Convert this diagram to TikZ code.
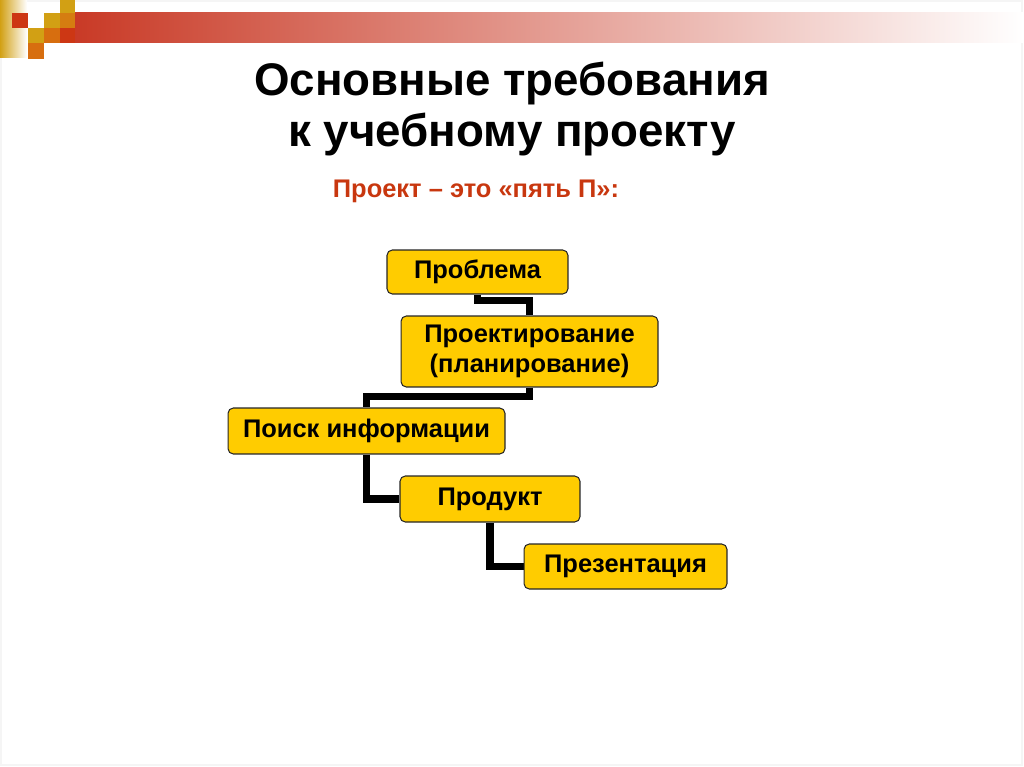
\documentclass[tikz,border=0pt]{standalone}
\usepackage{fontspec}
\setmainfont{Liberation Sans}
\usetikzlibrary{backgrounds}
\definecolor{boxfill}{RGB}{255,204,0}
\definecolor{subred}{RGB}{200,55,15}
\definecolor{decgold}{RGB}{210,160,20}
\definecolor{decorange}{RGB}{215,110,15}
\definecolor{decred}{RGB}{205,55,20}
\definecolor{barred}{RGB}{200,55,35}
\tikzset{
  stepbox/.style={draw=black!85, line width=0.6pt, fill=boxfill, rounded corners=3pt,
    font=\fontsize{14.5}{17.5}\selectfont\bfseries, align=center, inner sep=0pt},
  oneline/.style={text height=0.716em, text depth=0pt},
  conn/.style={line width=4pt, black, line join=miter},
  titletext/.style={font=\fontsize{26}{30}\selectfont\bfseries, anchor=base},
}
\begin{document}
\begin{tikzpicture}[x=0.02cm,y=-0.02cm]
\useasboundingbox (0,0) rectangle (1024,767);
\draw[black!4, line width=0.6pt] (1,1) rectangle (1022,765);
% top-left decoration
\shade[left color=decgold, right color=white] (0,0) rectangle (27,58);
\shade[left color=barred, right color=white] (60,13) rectangle (1024,43);
\fill[decred] (60,28) rectangle (75,43);
\fill[decred] (12,13) rectangle (28,28);
\fill[decgold] (60,0) rectangle (75,13);
\fill[decgold] (44,13) rectangle (60,28);
\fill[decorange!70!decgold] (60,13) rectangle (75,28);
\fill[decgold] (28,28) rectangle (44,43);
\fill[decorange] (44,28) rectangle (60,43);
\fill[decorange] (28,43) rectangle (44,59);
% titles
\node[titletext] (t1) at (512,95) {Основные требования};
\node[titletext] (t2) at (512,147) {к учебному проекту};
\node[font=\fontsize{14.5}{17}\selectfont\bfseries, text=subred, anchor=base] (sub) at (476,197) {Проект – это «пять П»:};
% boxes
\node[stepbox, oneline, minimum width=3.62cm, minimum height=0.88cm] (p1) at (477.5,272) {Проблема};
\node[stepbox, minimum width=5.14cm, minimum height=1.42cm] (p2) at (529.5,351.5) {Проектирование\\(планирование)};
\node[stepbox, oneline, minimum width=5.54cm, minimum height=0.92cm] (p3) at (366.5,431) {Поиск информации};
\node[stepbox, oneline, minimum width=3.6cm, minimum height=0.92cm] (p4) at (490,499) {Продукт};
\node[stepbox, oneline, minimum width=4.06cm, minimum height=0.9cm] (p5) at (625.5,566.5) {Презентация};
% connectors
\begin{scope}[on background layer]
\draw[conn] (p1.south) -- ++(0,6) -| (p2.north);
\draw[conn] (p2.south) -- ++(0,9) -| (p3.north);
\draw[conn] (p3.south) |- (p4.west);
\draw[conn] (p4.south) |- (p5.west);
\end{scope}
\end{tikzpicture}
\end{document}
